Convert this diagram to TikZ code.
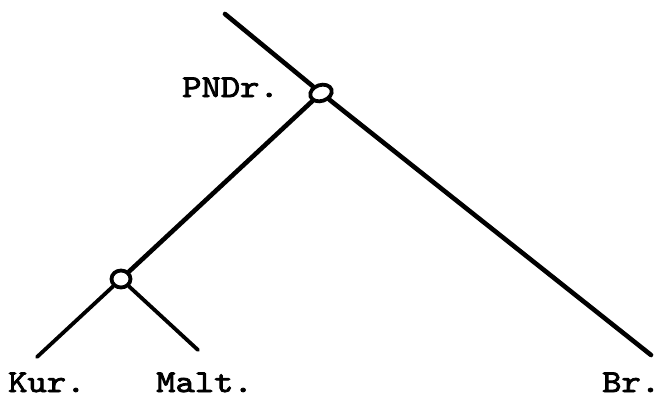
\documentclass[tikz,border=0pt]{standalone}
\usepackage{fontspec}
% typewriter labels: widened, darkened Latin Modern Mono
\newfontfamily\typer{lmmono10-regular.otf}[FakeStretch=1.15,FakeBold=2.6]
\usetikzlibrary{shapes.geometric}
\begin{document}
\begin{tikzpicture}[x=1pt,y=-1pt,
  branch/.style={line width=4.6pt,line cap=round},
  twig/.style={line width=3.8pt,line cap=round},
  knot/.style={draw,line width=3.8pt,ellipse,inner sep=0pt},
  lbl/.style={font=\typer\fontsize{32}{32}\selectfont,inner sep=0pt,anchor=base west}]
\useasboundingbox (0,0) rectangle (661,399);
% branching points
\node[knot,minimum width=22pt,minimum height=16pt,rotate=18] (up) at (321,93) {};
\node[knot,minimum width=19pt,minimum height=17pt] (low) at (121,279) {};
% loose ends
\coordinate (root) at (225,14);
\coordinate (br) at (651,355);
\coordinate (kur) at (37,357);
\coordinate (malt) at (198,350);
% labels
\node[lbl] (pndr) at (182,97) {PNDr.};
\node[lbl] (kurl) at (8,392) {Kur.};
\node[lbl] (maltl) at (156,392) {Malt.};
\node[lbl] (brl) at (602,392) {Br.};
% tree
\draw[branch] (root) -- (up);
\draw[branch] (up) -- (br);
\draw[branch] (up) -- (low);
\draw[twig] (low) -- (kur);
\draw[twig] (low) -- (malt);
\end{tikzpicture}
\end{document}
